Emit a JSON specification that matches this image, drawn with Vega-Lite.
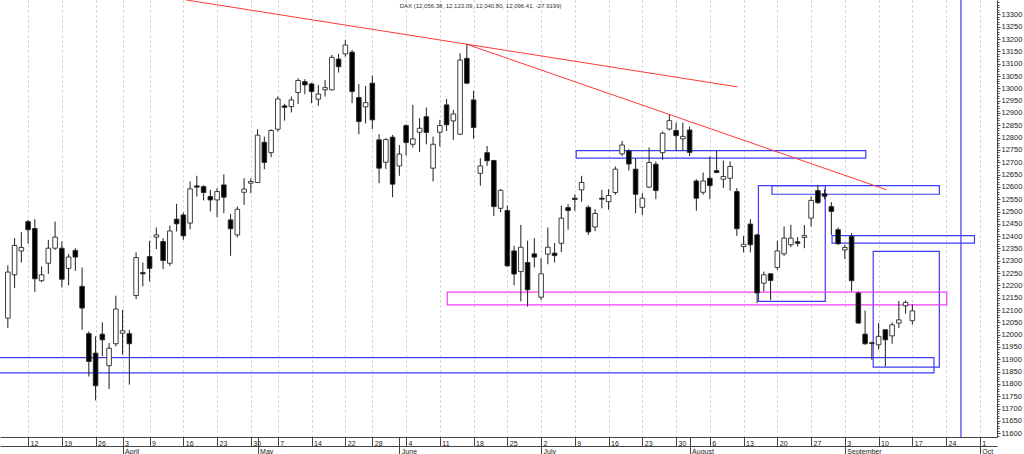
{
  "$schema": "https://vega.github.io/schema/vega-lite/v6.json",
  "width": 997,
  "height": 437,
  "autosize": {"type": "none"},
  "padding": {"left": 0, "top": 0, "right": 27, "bottom": 17},
  "background": "white",
  "config": {
    "view": {"stroke": null},
    "font": "Liberation Sans",
    "axis": {"labelFont": "Liberation Sans", "labelColor": "#222", "domainColor": "#444", "tickColor": "#444", "title": null}
  },
  "title": {
    "text": "DAX (12,056.38, 12,123.09, 12,040.80, 12,096.41, -27.9199)",
    "anchor": "start",
    "dx": 406,
    "offset": -10,
    "fontSize": 6,
    "fontWeight": "normal",
    "color": "#333",
    "font": "Liberation Sans"
  },
  "datasets": {
    "candles": [
      {"d": "2018-03-07", "i": 0, "o": 12067, "h": 12281, "l": 12027, "c": 12254},
      {"d": "2018-03-08", "i": 1, "o": 12243, "h": 12392, "l": 12189, "c": 12362},
      {"d": "2018-03-09", "i": 2, "o": 12340, "h": 12416, "l": 12293, "c": 12354},
      {"d": "2018-03-12", "i": 3, "o": 12459, "h": 12466, "l": 12369, "c": 12426},
      {"d": "2018-03-13", "i": 4, "o": 12431, "h": 12469, "l": 12173, "c": 12227},
      {"d": "2018-03-14", "i": 5, "o": 12219, "h": 12277, "l": 12213, "c": 12243},
      {"d": "2018-03-15", "i": 6, "o": 12290, "h": 12385, "l": 12247, "c": 12351},
      {"d": "2018-03-16", "i": 7, "o": 12351, "h": 12459, "l": 12344, "c": 12396},
      {"d": "2018-03-19", "i": 8, "o": 12351, "h": 12378, "l": 12192, "c": 12225},
      {"d": "2018-03-20", "i": 9, "o": 12269, "h": 12328, "l": 12200, "c": 12315},
      {"d": "2018-03-21", "i": 10, "o": 12342, "h": 12351, "l": 12259, "c": 12315},
      {"d": "2018-03-22", "i": 11, "o": 12196, "h": 12273, "l": 12020, "c": 12108},
      {"d": "2018-03-23", "i": 12, "o": 12004, "h": 12013, "l": 11830, "c": 11891},
      {"d": "2018-03-26", "i": 13, "o": 11925, "h": 11993, "l": 11733, "c": 11793},
      {"d": "2018-03-27", "i": 14, "o": 12002, "h": 12050, "l": 11912, "c": 11979},
      {"d": "2018-03-28", "i": 15, "o": 11874, "h": 11966, "l": 11779, "c": 11945},
      {"d": "2018-03-29", "i": 16, "o": 11963, "h": 12158, "l": 11952, "c": 12104},
      {"d": "2018-04-03", "i": 17, "o": 12006, "h": 12101, "l": 11918, "c": 12016},
      {"d": "2018-04-04", "i": 18, "o": 12004, "h": 12020, "l": 11797, "c": 11963},
      {"d": "2018-04-05", "i": 19, "o": 12159, "h": 12334, "l": 12144, "c": 12313},
      {"d": "2018-04-06", "i": 20, "o": 12252, "h": 12293, "l": 12196, "c": 12247},
      {"d": "2018-04-09", "i": 21, "o": 12317, "h": 12381, "l": 12216, "c": 12269},
      {"d": "2018-04-10", "i": 22, "o": 12396, "h": 12435, "l": 12347, "c": 12405},
      {"d": "2018-04-11", "i": 23, "o": 12378, "h": 12392, "l": 12266, "c": 12301},
      {"d": "2018-04-12", "i": 24, "o": 12290, "h": 12443, "l": 12279, "c": 12421},
      {"d": "2018-04-13", "i": 25, "o": 12469, "h": 12531, "l": 12419, "c": 12450},
      {"d": "2018-04-16", "i": 26, "o": 12486, "h": 12496, "l": 12385, "c": 12401},
      {"d": "2018-04-17", "i": 27, "o": 12453, "h": 12622, "l": 12428, "c": 12592},
      {"d": "2018-04-18", "i": 28, "o": 12604, "h": 12645, "l": 12561, "c": 12599},
      {"d": "2018-04-19", "i": 29, "o": 12601, "h": 12607, "l": 12545, "c": 12577},
      {"d": "2018-04-20", "i": 30, "o": 12561, "h": 12588, "l": 12500, "c": 12547},
      {"d": "2018-04-23", "i": 31, "o": 12547, "h": 12595, "l": 12477, "c": 12581},
      {"d": "2018-04-24", "i": 32, "o": 12608, "h": 12651, "l": 12493, "c": 12558},
      {"d": "2018-04-25", "i": 33, "o": 12466, "h": 12490, "l": 12320, "c": 12430},
      {"d": "2018-04-26", "i": 34, "o": 12405, "h": 12520, "l": 12395, "c": 12509},
      {"d": "2018-04-27", "i": 35, "o": 12578, "h": 12635, "l": 12527, "c": 12591},
      {"d": "2018-04-30", "i": 36, "o": 12615, "h": 12635, "l": 12574, "c": 12622},
      {"d": "2018-05-02", "i": 37, "o": 12618, "h": 12834, "l": 12615, "c": 12810},
      {"d": "2018-05-03", "i": 38, "o": 12781, "h": 12804, "l": 12672, "c": 12699},
      {"d": "2018-05-04", "i": 39, "o": 12739, "h": 12834, "l": 12720, "c": 12829},
      {"d": "2018-05-07", "i": 40, "o": 12834, "h": 12967, "l": 12825, "c": 12957},
      {"d": "2018-05-08", "i": 41, "o": 12929, "h": 12937, "l": 12869, "c": 12923},
      {"d": "2018-05-09", "i": 42, "o": 12926, "h": 12967, "l": 12902, "c": 12953},
      {"d": "2018-05-10", "i": 43, "o": 12983, "h": 13041, "l": 12937, "c": 13032},
      {"d": "2018-05-11", "i": 44, "o": 13027, "h": 13037, "l": 12976, "c": 13014},
      {"d": "2018-05-14", "i": 45, "o": 13018, "h": 13023, "l": 12940, "c": 12987},
      {"d": "2018-05-15", "i": 46, "o": 12956, "h": 13014, "l": 12929, "c": 12977},
      {"d": "2018-05-16", "i": 47, "o": 12994, "h": 13034, "l": 12967, "c": 13003},
      {"d": "2018-05-17", "i": 48, "o": 12994, "h": 13136, "l": 12991, "c": 13126},
      {"d": "2018-05-18", "i": 49, "o": 13119, "h": 13140, "l": 13064, "c": 13088},
      {"d": "2018-05-22", "i": 50, "o": 13140, "h": 13197, "l": 13129, "c": 13176},
      {"d": "2018-05-23", "i": 51, "o": 13147, "h": 13156, "l": 12940, "c": 12987},
      {"d": "2018-05-24", "i": 52, "o": 12963, "h": 13017, "l": 12814, "c": 12865},
      {"d": "2018-05-25", "i": 53, "o": 12925, "h": 13010, "l": 12858, "c": 12942},
      {"d": "2018-05-28", "i": 54, "o": 13021, "h": 13052, "l": 12835, "c": 12872},
      {"d": "2018-05-29", "i": 55, "o": 12791, "h": 12814, "l": 12615, "c": 12676},
      {"d": "2018-05-30", "i": 56, "o": 12700, "h": 12798, "l": 12673, "c": 12792},
      {"d": "2018-05-31", "i": 57, "o": 12802, "h": 12811, "l": 12558, "c": 12611},
      {"d": "2018-06-01", "i": 58, "o": 12685, "h": 12770, "l": 12645, "c": 12733},
      {"d": "2018-06-04", "i": 59, "o": 12849, "h": 12854, "l": 12727, "c": 12780},
      {"d": "2018-06-05", "i": 60, "o": 12773, "h": 12933, "l": 12760, "c": 12795},
      {"d": "2018-06-06", "i": 61, "o": 12822, "h": 12879, "l": 12741, "c": 12838},
      {"d": "2018-06-07", "i": 62, "o": 12885, "h": 12922, "l": 12773, "c": 12821},
      {"d": "2018-06-08", "i": 63, "o": 12676, "h": 12804, "l": 12622, "c": 12773},
      {"d": "2018-06-11", "i": 64, "o": 12822, "h": 12872, "l": 12764, "c": 12849},
      {"d": "2018-06-12", "i": 65, "o": 12933, "h": 12957, "l": 12827, "c": 12852},
      {"d": "2018-06-13", "i": 66, "o": 12868, "h": 12913, "l": 12791, "c": 12896},
      {"d": "2018-06-14", "i": 67, "o": 12814, "h": 13142, "l": 12811, "c": 13115},
      {"d": "2018-06-15", "i": 68, "o": 13122, "h": 13179, "l": 13017, "c": 13021},
      {"d": "2018-06-18", "i": 69, "o": 12953, "h": 12990, "l": 12795, "c": 12841},
      {"d": "2018-06-19", "i": 70, "o": 12655, "h": 12716, "l": 12605, "c": 12685},
      {"d": "2018-06-20", "i": 71, "o": 12739, "h": 12766, "l": 12685, "c": 12706},
      {"d": "2018-06-21", "i": 72, "o": 12707, "h": 12710, "l": 12482, "c": 12520},
      {"d": "2018-06-22", "i": 73, "o": 12513, "h": 12591, "l": 12497, "c": 12586},
      {"d": "2018-06-25", "i": 74, "o": 12504, "h": 12524, "l": 12277, "c": 12279},
      {"d": "2018-06-26", "i": 75, "o": 12340, "h": 12361, "l": 12200, "c": 12246},
      {"d": "2018-06-27", "i": 76, "o": 12256, "h": 12446, "l": 12135, "c": 12355},
      {"d": "2018-06-28", "i": 77, "o": 12293, "h": 12382, "l": 12114, "c": 12182},
      {"d": "2018-06-29", "i": 78, "o": 12328, "h": 12392, "l": 12273, "c": 12315},
      {"d": "2018-07-02", "i": 79, "o": 12152, "h": 12311, "l": 12141, "c": 12247},
      {"d": "2018-07-03", "i": 80, "o": 12327, "h": 12435, "l": 12286, "c": 12355},
      {"d": "2018-07-04", "i": 81, "o": 12331, "h": 12372, "l": 12293, "c": 12321},
      {"d": "2018-07-05", "i": 82, "o": 12371, "h": 12524, "l": 12335, "c": 12473},
      {"d": "2018-07-06", "i": 83, "o": 12516, "h": 12530, "l": 12426, "c": 12504},
      {"d": "2018-07-09", "i": 84, "o": 12554, "h": 12570, "l": 12503, "c": 12549},
      {"d": "2018-07-10", "i": 85, "o": 12588, "h": 12645, "l": 12540, "c": 12618},
      {"d": "2018-07-11", "i": 86, "o": 12517, "h": 12525, "l": 12405, "c": 12417},
      {"d": "2018-07-12", "i": 87, "o": 12437, "h": 12510, "l": 12420, "c": 12492},
      {"d": "2018-07-13", "i": 88, "o": 12554, "h": 12588, "l": 12513, "c": 12550},
      {"d": "2018-07-16", "i": 89, "o": 12540, "h": 12591, "l": 12507, "c": 12565},
      {"d": "2018-07-17", "i": 90, "o": 12577, "h": 12683, "l": 12568, "c": 12672},
      {"d": "2018-07-18", "i": 91, "o": 12734, "h": 12787, "l": 12726, "c": 12770},
      {"d": "2018-07-19", "i": 92, "o": 12746, "h": 12753, "l": 12666, "c": 12693},
      {"d": "2018-07-20", "i": 93, "o": 12672, "h": 12716, "l": 12493, "c": 12570},
      {"d": "2018-07-23", "i": 94, "o": 12517, "h": 12574, "l": 12486, "c": 12554},
      {"d": "2018-07-24", "i": 95, "o": 12599, "h": 12760, "l": 12595, "c": 12699},
      {"d": "2018-07-25", "i": 96, "o": 12692, "h": 12703, "l": 12550, "c": 12585},
      {"d": "2018-07-26", "i": 97, "o": 12739, "h": 12825, "l": 12710, "c": 12818},
      {"d": "2018-07-27", "i": 98, "o": 12835, "h": 12892, "l": 12829, "c": 12869},
      {"d": "2018-07-30", "i": 99, "o": 12829, "h": 12861, "l": 12747, "c": 12808},
      {"d": "2018-07-31", "i": 100, "o": 12795, "h": 12861, "l": 12747, "c": 12805},
      {"d": "2018-08-01", "i": 101, "o": 12831, "h": 12845, "l": 12725, "c": 12740},
      {"d": "2018-08-02", "i": 102, "o": 12624, "h": 12631, "l": 12503, "c": 12554},
      {"d": "2018-08-03", "i": 103, "o": 12578, "h": 12658, "l": 12568, "c": 12624},
      {"d": "2018-08-06", "i": 104, "o": 12635, "h": 12723, "l": 12550, "c": 12605},
      {"d": "2018-08-07", "i": 105, "o": 12666, "h": 12747, "l": 12656, "c": 12658},
      {"d": "2018-08-08", "i": 106, "o": 12631, "h": 12707, "l": 12595, "c": 12642},
      {"d": "2018-08-09", "i": 107, "o": 12635, "h": 12703, "l": 12585, "c": 12683},
      {"d": "2018-08-10", "i": 108, "o": 12581, "h": 12595, "l": 12401, "c": 12430},
      {"d": "2018-08-13", "i": 109, "o": 12358, "h": 12401, "l": 12334, "c": 12367},
      {"d": "2018-08-14", "i": 110, "o": 12449, "h": 12469, "l": 12334, "c": 12365},
      {"d": "2018-08-15", "i": 111, "o": 12405, "h": 12409, "l": 12128, "c": 12169},
      {"d": "2018-08-16", "i": 112, "o": 12209, "h": 12256, "l": 12175, "c": 12243},
      {"d": "2018-08-17", "i": 113, "o": 12247, "h": 12250, "l": 12141, "c": 12220},
      {"d": "2018-08-20", "i": 114, "o": 12273, "h": 12381, "l": 12263, "c": 12340},
      {"d": "2018-08-21", "i": 115, "o": 12328, "h": 12439, "l": 12320, "c": 12392},
      {"d": "2018-08-22", "i": 116, "o": 12365, "h": 12446, "l": 12355, "c": 12392},
      {"d": "2018-08-23", "i": 117, "o": 12377, "h": 12396, "l": 12358, "c": 12371},
      {"d": "2018-08-24", "i": 118, "o": 12395, "h": 12445, "l": 12351, "c": 12402},
      {"d": "2018-08-27", "i": 119, "o": 12473, "h": 12561, "l": 12439, "c": 12545},
      {"d": "2018-08-28", "i": 120, "o": 12585, "h": 12608, "l": 12531, "c": 12536},
      {"d": "2018-08-29", "i": 121, "o": 12572, "h": 12590, "l": 12550, "c": 12562},
      {"d": "2018-08-30", "i": 122, "o": 12520, "h": 12538, "l": 12405, "c": 12500},
      {"d": "2018-08-31", "i": 123, "o": 12426, "h": 12435, "l": 12365, "c": 12369},
      {"d": "2018-09-03", "i": 124, "o": 12344, "h": 12365, "l": 12307, "c": 12354},
      {"d": "2018-09-04", "i": 125, "o": 12399, "h": 12412, "l": 12175, "c": 12219},
      {"d": "2018-09-05", "i": 126, "o": 12169, "h": 12175, "l": 12044, "c": 12047},
      {"d": "2018-09-06", "i": 127, "o": 12002, "h": 12098, "l": 11959, "c": 11963},
      {"d": "2018-09-07", "i": 128, "o": 11967, "h": 11972, "l": 11898, "c": 11964},
      {"d": "2018-09-10", "i": 129, "o": 11959, "h": 12047, "l": 11939, "c": 11993},
      {"d": "2018-09-11", "i": 130, "o": 12020, "h": 12022, "l": 11871, "c": 11979},
      {"d": "2018-09-12", "i": 131, "o": 11995, "h": 12050, "l": 11963, "c": 12040},
      {"d": "2018-09-13", "i": 132, "o": 12047, "h": 12137, "l": 12027, "c": 12060},
      {"d": "2018-09-14", "i": 133, "o": 12117, "h": 12139, "l": 12085, "c": 12131},
      {"d": "2018-09-17", "i": 134, "o": 12056.38, "h": 12123.09, "l": 12040.8, "c": 12096.41}
    ],
    "boxes": [
      {"kind": "zone", "i1": 84.2, "i2": 127.1, "p1": 12717, "p2": 12747},
      {"kind": "zone", "i1": 111.2, "i2": 121.1, "p1": 12135, "p2": 12605},
      {"kind": "zone", "i1": 113.2, "i2": 138.0, "p1": 12570, "p2": 12605},
      {"kind": "zone", "i1": 122.1, "i2": 143.2, "p1": 12372, "p2": 12402},
      {"kind": "zone", "i1": 128.2, "i2": 138.0, "p1": 11868, "p2": 12338},
      {"kind": "zone", "i1": -2, "i2": 137.2, "p1": 11845, "p2": 11907},
      {"kind": "band", "i1": 65.1, "i2": 139.1, "p1": 12121, "p2": 12173}
    ],
    "trend": [
      {"line": "A", "i": 26.4, "p": 13359},
      {"line": "A", "i": 108.1, "p": 13006},
      {"line": "B", "i": 68.0, "p": 13179},
      {"line": "B", "i": 130.2, "p": 12588}
    ],
    "marker": [{"i": 141.2}]
  },
  "layer": [
    {
      "data": {"name": "boxes"},
      "mark": {"type": "rect", "filled": false, "strokeWidth": 1.2},
      "encoding": {
        "x": {
          "field": "i1", "type": "quantitative",
          "scale": {"domain": [-0.42, 145.8], "nice": false, "zero": false},
          "axis": {"orient": "bottom", "offset": 9, "values": [], "ticks": false, "labels": false, "grid": false, "domainColor": "#444"}
        },
        "x2": {"field": "i2"},
        "y": {
          "field": "p1", "type": "quantitative",
          "scale": {"domain": [11584.4, 13358.8], "nice": false, "zero": false},
          "axis": null
        },
        "y2": {"field": "p2"},
        "stroke": {
          "field": "kind", "type": "nominal",
          "scale": {"domain": ["zone", "band"], "range": ["#3c3cf5", "#f53cf5"]},
          "legend": null
        }
      }
    },
    {
      "data": {"name": "marker"},
      "mark": {"type": "rule", "color": "#3c3cf5", "strokeWidth": 1.2},
      "encoding": {"x": {"field": "i", "type": "quantitative", "axis": null}}
    },
    {
      "data": {"name": "trend"},
      "mark": {"type": "line", "color": "#ff3a3a", "strokeWidth": 1, "clip": true},
      "encoding": {
        "x": {"field": "i", "type": "quantitative", "axis": null},
        "y": {"field": "p", "type": "quantitative", "axis": null},
        "detail": {"field": "line"}
      }
    },
    {
      "data": {"name": "candles"},
      "mark": {"type": "rule", "color": "#1e1e1e", "strokeWidth": 1},
      "encoding": {
        "x": {
          "field": "i", "type": "quantitative",
          "axis": {
            "orient": "bottom",
            "values": [3, 8, 13, 17, 21, 26, 31, 36, 40, 45, 50, 54, 59, 64, 69, 74, 79, 84, 89, 94, 99, 104, 109, 114, 119, 124, 129, 134, 139, 144],
            "labelExpr": "['12','19','26','3','9','16','23','30','7','14','22','28','4','11','18','25','2','9','16','23','30','6','13','20','27','3','10','17','24','1'][indexof([3,8,13,17,21,26,31,36,40,45,50,54,59,64,69,74,79,84,89,94,99,104,109,114,119,124,129,134,139,144], datum.value)]",
            "grid": true, "gridDash": [2, 3], "gridColor": "#c8c8c8",
            "tickSize": 9, "labelAlign": "left", "labelOffset": 2, "labelBaseline": "top",
            "labelPadding": -7, "labelFontSize": 7, "labelOverlap": false, "labelFlush": false
          }
        },
        "y": {
          "field": "l", "type": "quantitative",
          "axis": {
            "orient": "right",
            "values": [11600, 11650, 11700, 11750, 11800, 11850, 11900, 11950, 12000, 12050, 12100, 12150, 12200, 12250, 12300, 12350, 12400, 12450, 12500, 12550, 12600, 12650, 12700, 12750, 12800, 12850, 12900, 12950, 13000, 13050, 13100, 13150, 13200, 13250, 13300],
            "format": "d", "tickSize": 3, "labelFontSize": 7.5, "labelPadding": 1, "grid": false,
            "labelOverlap": false, "labelFlush": false
          }
        },
        "y2": {"field": "h"}
      }
    },
    {
      "data": {"name": "candles"},
      "mark": {"type": "bar", "width": 4.6, "stroke": "#2a2a2a", "strokeWidth": 0.9},
      "encoding": {
        "x": {
          "field": "i", "type": "quantitative",
          "axis": {
            "orient": "bottom",
            "values": [17, 37, 58, 79, 101, 124, 144],
            "labelExpr": "['April','May','June','July','August','September','Oct'][indexof([17,37,58,79,101,124,144], datum.value)]",
            "domain": false, "grid": false, "tickSize": 17, "labelAlign": "left", "labelOffset": 2,
            "labelBaseline": "top", "labelPadding": -7, "labelFontSize": 7, "labelOverlap": false, "labelFlush": false
          }
        },
        "y": {
          "field": "o", "type": "quantitative",
          "axis": {
            "orient": "right",
            "values": [11590, 11600, 11610, 11620, 11630, 11640, 11650, 11660, 11670, 11680, 11690, 11700, 11710, 11720, 11730, 11740, 11750, 11760, 11770, 11780, 11790, 11800, 11810, 11820, 11830, 11840, 11850, 11860, 11870, 11880, 11890, 11900, 11910, 11920, 11930, 11940, 11950, 11960, 11970, 11980, 11990, 12000, 12010, 12020, 12030, 12040, 12050, 12060, 12070, 12080, 12090, 12100, 12110, 12120, 12130, 12140, 12150, 12160, 12170, 12180, 12190, 12200, 12210, 12220, 12230, 12240, 12250, 12260, 12270, 12280, 12290, 12300, 12310, 12320, 12330, 12340, 12350, 12360, 12370, 12380, 12390, 12400, 12410, 12420, 12430, 12440, 12450, 12460, 12470, 12480, 12490, 12500, 12510, 12520, 12530, 12540, 12550, 12560, 12570, 12580, 12590, 12600, 12610, 12620, 12630, 12640, 12650, 12660, 12670, 12680, 12690, 12700, 12710, 12720, 12730, 12740, 12750, 12760, 12770, 12780, 12790, 12800, 12810, 12820, 12830, 12840, 12850, 12860, 12870, 12880, 12890, 12900, 12910, 12920, 12930, 12940, 12950, 12960, 12970, 12980, 12990, 13000, 13010, 13020, 13030, 13040, 13050, 13060, 13070, 13080, 13090, 13100, 13110, 13120, 13130, 13140, 13150, 13160, 13170, 13180, 13190, 13200, 13210, 13220, 13230, 13240, 13250, 13260, 13270, 13280, 13290, 13300, 13310, 13320, 13330, 13340, 13350],
            "tickSize": 2, "labels": false, "domain": false, "grid": false
          }
        },
        "y2": {"field": "c"},
        "fill": {
          "condition": {"test": "datum.c < datum.o", "value": "#000000"},
          "value": "#ffffff"
        }
      }
    }
  ],
  "resolve": {"axis": {"x": "independent", "y": "independent"}}
}
